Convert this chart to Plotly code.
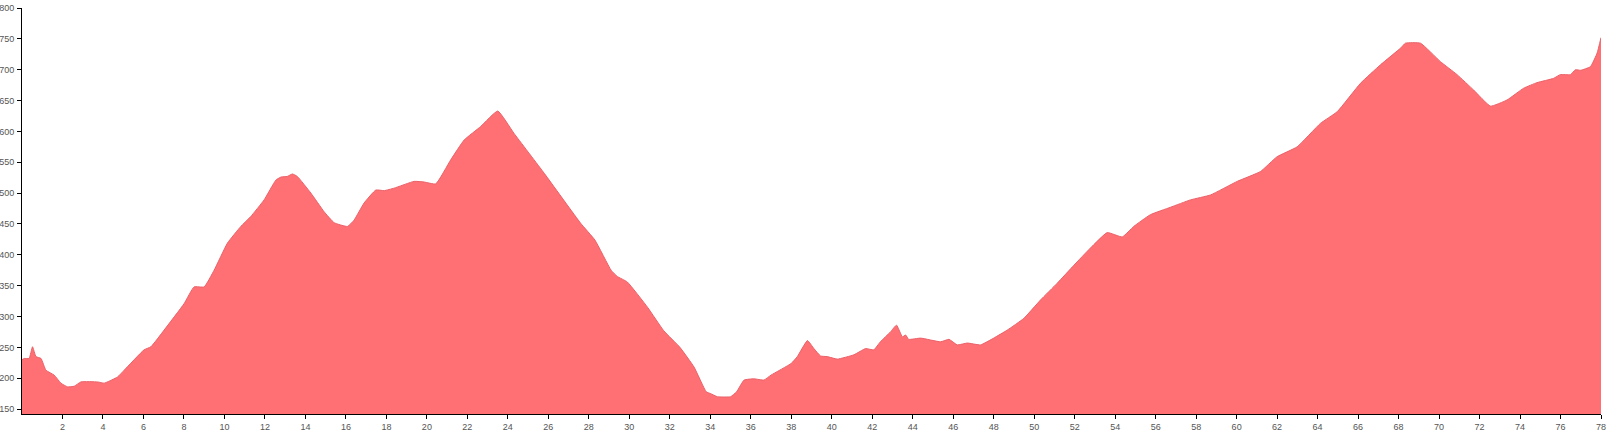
import plotly.graph_objects as go

distance_km = [0, 0.11, 0.35, 0.52, 0.69, 0.94, 1.18, 1.59, 1.92, 2.25, 2.58, 2.91, 3.73, 4.06,
               4.72, 5.05, 6.03, 6.37, 7.02, 8.01, 8.5, 9.0, 9.49, 10.15, 10.81, 11.3,
               11.96, 12.54, 12.79, 13.1, 13.36, 13.6, 14.27, 14.92, 15.42, 16.08, 16.4,
               16.9, 17.48, 17.89, 18.38, 19.37, 19.86, 20.44, 21.18, 21.84, 22.66, 23.5,
               24.3, 25.8, 27.6, 28.3, 29.1, 29.4, 29.9, 30.9, 31.7, 32.5, 33.2, 33.8,
               34.02, 34.35, 35.0, 35.3, 35.67, 36.16, 36.65, 37.0, 38.0, 38.3, 38.8,
               39.12, 39.45, 39.78, 40.28, 41.1, 41.67, 42.08, 42.4, 42.9, 43.2, 43.49,
               43.65, 43.8, 44.39, 45.38, 45.79, 46.2, 46.7, 47.35, 48.0, 48.67, 49.49,
               50.32, 51.14, 51.96, 52.78, 53.61, 54.35, 54.92, 55.74, 56.73, 57.72,
               58.71, 60.03, 61.18, 62.0, 62.99, 64.14, 64.97, 66.12, 67.11, 68.1, 68.34,
               69.08, 70.07, 70.89, 71.71, 72.54, 73.36, 74.18, 74.84, 75.66, 75.99,
               76.49, 76.74, 76.99, 77.48, 77.81, 78.0]
elevation_m = [230, 232, 232, 251, 235, 232, 213, 205, 192, 186, 187, 194, 194, 192,
               202, 213, 246, 251, 278, 321, 348, 348, 375, 419, 446, 462,
               489, 521, 526, 527, 531, 527, 500, 470, 452, 446, 456,
               484, 505, 504, 508, 519, 518, 515, 554, 586, 608, 633,
               597, 532, 451, 424, 375, 365, 356, 315, 277, 250, 218, 178,
               175, 170, 170, 178, 197, 199, 197, 205, 224, 235, 261,
               248, 236, 235, 231, 238, 248, 246, 259, 275, 286, 267,
               270, 263, 265, 259, 263, 254, 257, 254, 265, 278, 297,
               327, 354, 383, 411, 436, 429, 446, 465, 477, 489,
               497, 519, 535, 559, 575, 613, 632, 678, 708, 735, 743,
               743, 713, 692, 667, 641, 651, 670, 679, 686, 692,
               692, 700, 699, 705, 727, 752]

x_ticks = list(range(2, 79, 2))
y_ticks = list(range(150, 801, 50))

fig = go.Figure(go.Scatter(
    x=distance_km, y=elevation_m, mode="lines", fill="tozeroy",
    fillcolor="#ff7074", line=dict(color="#ea6168", width=1, shape="spline", smoothing=0.4),
    hoverinfo="x+y",
))

axis_common = dict(showgrid=False, zeroline=False, showline=True, linecolor="#000000",
                   linewidth=1, ticks="outside", ticklen=4, tickcolor="#000000",
                   automargin=False,
                   tickfont=dict(family="Arial, Liberation Sans, sans-serif", size=9, color="#555555"))

fig.update_layout(
    width=1611, height=433,
    margin=dict(l=22, r=10, t=8, b=19, autoexpand=False),
    paper_bgcolor="white", plot_bgcolor="white",
    showlegend=False,
    xaxis=dict(range=[0, 78], tickmode="array", tickvals=x_ticks,
               ticktext=[str(v) for v in x_ticks], **axis_common),
    yaxis=dict(range=[142, 800], tickmode="array", tickvals=y_ticks,
               ticktext=[str(v) for v in y_ticks], ticklabelstandoff=1, **axis_common),
)

fig.write_html(
    "out.html",
    config={"displayModeBar": False},
    post_script="document.body.style.margin='0px';document.body.style.padding='0px';"
                "document.body.style.overflow='hidden';",
)
